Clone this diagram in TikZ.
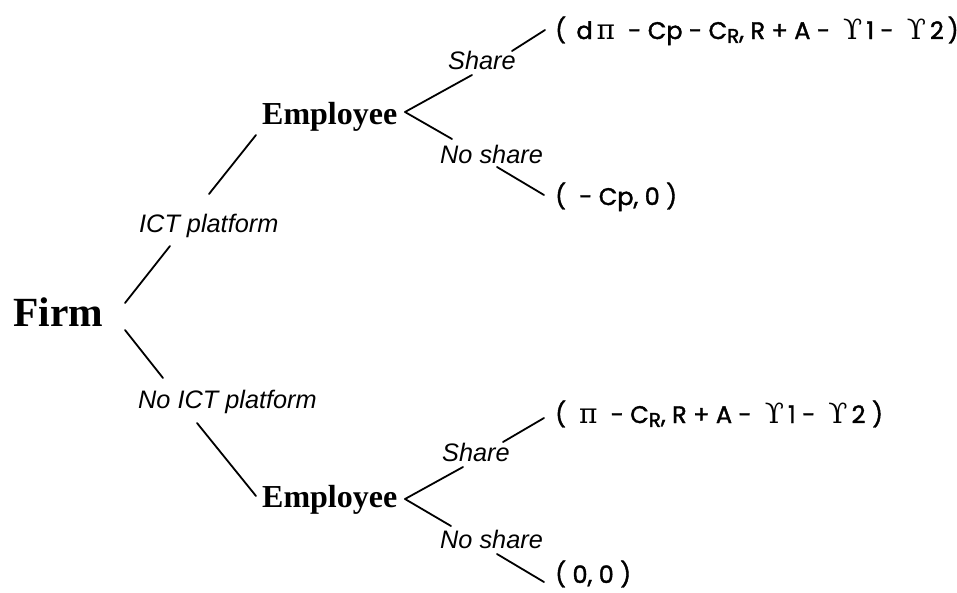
\documentclass[tikz,border=0pt]{standalone}
\usepackage{fontspec}
\setmainfont{Liberation Serif}
\newfontfamily\movefont{Liberation Sans}
\newfontfamily\payfont{Poppins}[FakeBold=1.6]
\newfontfamily\gkfont{DejaVu Serif}
% lowered, smaller subscript letter as in C_R
\newcommand{\lowsub}[1]{\raisebox{-0.3ex}{\fontsize{20}{20}\selectfont #1}}
\newcommand{\gk}[1]{{\gkfont\fontsize{28}{28}\selectfont #1}}
\begin{document}
\begin{tikzpicture}[x=1pt,y=-1pt,
  player/.style={font=\bfseries\fontsize{32}{32}\selectfont, inner sep=0, anchor=base west},
  movelabel/.style={font=\movefont\itshape\fontsize{25.3}{25.3}\selectfont, inner sep=0, anchor=base west},
  payoff/.style={font=\payfont\fontsize{24}{24}\selectfont, inner sep=0, anchor=base west},
  branch/.style={line width=1.8pt, line cap=round}]
\useasboundingbox (0,0) rectangle (957,592);

% players
\node[player, font=\bfseries\fontsize{41.5}{41.5}\selectfont] (firm) at (13,326) {Firm};
\node[player] (empA) at (262,124) {Employee};
\node[player] (empB) at (262,507) {Employee};

% moves
\node[movelabel] (ict)   at (139,232) {ICT platform};
\node[movelabel] (noict) at (138,408) {No ICT platform};
\node[movelabel] (shA)   at (448,69)  {Share};
\node[movelabel] (nsA)   at (440,163) {No share};
\node[movelabel] (shB)   at (442,461) {Share};
\node[movelabel] (nsB)   at (440,548) {No share};

% payoffs
\node[payoff] (pA1) at (555,39)  {(\, d\,\gk{π}\; - Cp - C\lowsub{R}, R + A - \;\gk{ϒ}\,1 - \;\gk{ϒ}\,2\,)};
\node[payoff] (pA2) at (555,205) {(\; - Cp, 0 )};
\node[payoff] (pB1) at (555,423) {(\; \gk{π}\; - C\lowsub{R}, R + A - \;\gk{ϒ}\,1 - \;\gk{ϒ}\,2\;)};
\node[payoff] (pB2) at (555,583) {( 0, 0 )};

% branch points
\coordinate (firmU) at (125,303);
\coordinate (firmD) at (125,330);
\coordinate (ictL)  at (170,246);
\coordinate (ictH)  at (209,194);
\coordinate (empAin) at (256,135);
\coordinate (noictL) at (163,378);
\coordinate (noictH) at (197,423);
\coordinate (empBin) at (256,496);
\coordinate (vA) at (405,112);
\coordinate (vB) at (405,499);
\coordinate (shAL) at (472,75);
\coordinate (shAH) at (512,51);
\coordinate (pA1in) at (545,30);
\coordinate (nsAL) at (452,139);
\coordinate (nsAH) at (497,167);
\coordinate (pA2in) at (544,195);
\coordinate (shBL) at (463,467);
\coordinate (shBH) at (503,442);
\coordinate (pB1in) at (544,418);
\coordinate (nsBL) at (451,526);
\coordinate (nsBH) at (497,554);
\coordinate (pB2in) at (544,582);

% connectors, broken around the move labels
\draw[branch] (firmU) -- (ictL) (ictH) -- (empAin);
\draw[branch] (firmD) -- (noictL) (noictH) -- (empBin);
\draw[branch] (vA) -- (shAL) (shAH) -- (pA1in);
\draw[branch] (vA) -- (nsAL) (nsAH) -- (pA2in);
\draw[branch] (vB) -- (shBL) (shBH) -- (pB1in);
\draw[branch] (vB) -- (nsBL) (nsBH) -- (pB2in);
\end{tikzpicture}
\end{document}
